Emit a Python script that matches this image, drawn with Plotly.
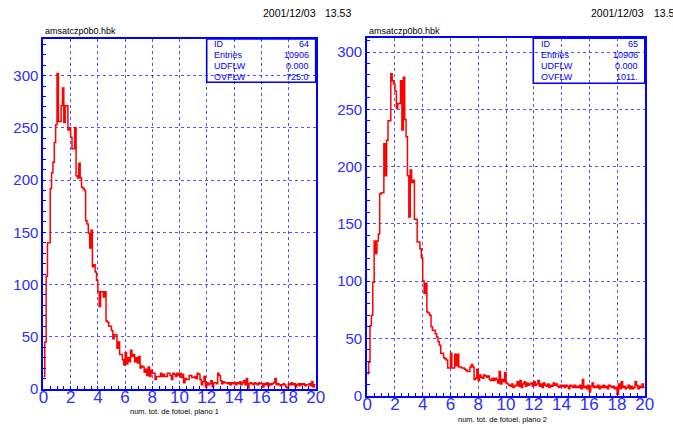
import numpy as np
import plotly.graph_objects as go

# ---- histogram contents: 200 bins of width 0.1 between 0 and 20 ----
x_min, x_max, n_bins = 0.0, 20.0, 200

plano1 = [
    12, 45, 108, 140, 140, 192, 207, 217, 236, 253,
    302, 256, 256, 271, 288, 255, 271, 271, 248, 250,
    241, 230, 230, 250, 204, 202, 216, 202, 193, 192,
    190, 161, 158, 149, 135, 152, 117, 119, 112, 104,
    93, 79, 93, 93, 88, 93, 65, 64, 60, 60,
    56, 48, 52, 52, 39, 45, 33, 33, 28, 23,
    35, 24, 30, 26, 37, 31, 33, 26, 30, 25,
    31, 20, 22, 21, 16, 19, 13, 21, 12, 18,
    15, 15, 9, 12, 12, 12, 15, 12, 14, 12,
    12, 15, 15, 13, 9, 15, 14, 12, 15, 13,
    15, 11, 14, 6, 10, 9, 9, 13, 13, 11,
    11, 12, 10, 15, 14, 9, 4, 7, 12, 2,
    6, 4, 5, 8, 2, 6, 6, 5, 15, 13,
    8, 5, 7, 6, 6, 5, 6, 4, 6, 5,
    6, 4, 6, 5, 7, 4, 6, 8, 4, 10,
    1, 5, 6, 5, 4, 6, 5, 4, 6, 5,
    5, 2, 5, 4, 6, 3, 5, 4, 5, 6,
    10, 4, 5, 4, 3, 4, 5, 4, 2, 1,
    5, 4, 6, 4, 5, 2, 4, 5, 3, 5,
    4, 5, 3, 4, 4, 5, 3, 7, 2, 4,
]

plano2 = [
    19, 29, 61, 70, 99, 135, 124, 135, 141, 176,
    177, 177, 220, 192, 223, 240, 240, 281, 275, 272,
    266, 251, 255, 255, 275, 232, 278, 241, 226, 192,
    156, 197, 186, 188, 154, 154, 134, 134, 128, 120,
    100, 89, 98, 73, 72, 70, 60, 57, 57, 54,
    51, 47, 44, 37, 37, 33, 32, 31, 24, 24,
    37, 24, 24, 36, 26, 36, 25, 25, 24, 24,
    23, 22, 21, 21, 25, 27, 25, 14, 15, 23,
    13, 18, 16, 15, 18, 17, 16, 17, 14, 13,
    15, 13, 15, 14, 11, 21, 10, 14, 12, 20,
    11, 10, 9, 8, 10, 7, 8, 9, 12, 8,
    13, 7, 10, 12, 8, 11, 9, 10, 11, 8,
    12, 9, 10, 13, 8, 10, 7, 11, 9, 8,
    10, 7, 9, 8, 11, 9, 10, 8, 7, 9,
    8, 9, 7, 9, 8, 6, 9, 8, 7, 9,
    7, 8, 7, 9, 6, 14, 7, 8, 6, 9,
    3, 8, 11, 7, 8, 7, 9, 6, 8, 7,
    9, 7, 8, 6, 9, 8, 7, 8, 6, 7,
    1, 10, 6, 12, 7, 8, 6, 7, 9, 6,
    8, 6, 7, 12, 9, 6, 8, 7, 10, 7,
]

# statistics boxes
stat_labels = ["ID", "Entries", "UDFLW", "OVFLW"]
stats1 = ["64", "10906", "0.000", "725.0"]
stats2 = ["65", "10906", "0.000", "1011."]

file_name = "amsatczp0b0.hbk"
x_titles = ["num. tot. de fotoel, plano 1", "num. tot. de fotoel, plano 2"]
stamp_date = "2001/12/03"
stamp_times = ["13.53", "13.54"]
y_tops = [335, 312]

W, H = 673, 424
BLUE = "#0000ff"
LABEL_BLUE = "#2e2eff"
RED = "#ff0000"
TICK_FONT = "Liberation Sans"


def px(x):
    return x / W


def py(y):
    return 1 - y / H


edges = np.linspace(x_min, x_max, n_bins + 1)


def step_xy(vals):
    v = np.asarray(vals, dtype=float)
    return np.append(edges[:-1], edges[-1]), np.append(v, v[-1])


fig = go.Figure()
for i, vals in enumerate([plano1, plano2]):
    xs, ys = step_xy(vals)
    suffix = "" if i == 0 else "2"
    fig.add_trace(go.Scatter(
        x=xs, y=ys, mode="lines", line=dict(color=RED, width=1.5, shape="hv"),
        xaxis="x" + suffix, yaxis="y" + suffix, showlegend=False, hoverinfo="skip",
    ))

# panel frames in pixels: (left, right, top, bottom)
frames = [(43.4, 315.7, 39.0, 389.0), (367.2, 644.8, 38.3, 395.5)]

axis_common = dict(
    showline=True, linecolor=BLUE, linewidth=2, mirror=True,
    showgrid=True, gridcolor="rgba(40,40,255,0.8)", griddash="dot", gridwidth=1,
    ticks="inside", ticklen=3, tickcolor=BLUE, tickwidth=1,
    zeroline=False, fixedrange=True, automargin=False,
)

layout_axes = {}
for i, (l, r, t, b) in enumerate(frames):
    suffix = "" if i == 0 else "2"
    layout_axes["xaxis" + suffix] = dict(
        axis_common, domain=[px(l), px(r)], range=[x_min, x_max],
        anchor="y" + suffix, tick0=0, dtick=2, ticklabelstandoff=-8,
        tickfont=dict(family=TICK_FONT, size=17, color=LABEL_BLUE),
        minor=dict(ticks="inside", dtick=0.5, ticklen=3, tickcolor=BLUE, showgrid=False),
    )
    layout_axes["yaxis" + suffix] = dict(
        axis_common, domain=[py(b), py(t)], range=[0, y_tops[i]],
        anchor="x" + suffix, tick0=0, dtick=50,
        tickfont=dict(family=TICK_FONT, size=15, color=LABEL_BLUE),
        minor=dict(ticks="inside", dtick=10, ticklen=3, tickcolor=BLUE, showgrid=False),
    )

annotations = []
shapes = []

# stats boxes
boxes = [((206.7, 315.7, 39.0, 82.3), stats1, 212.0, 310.5, [44.3, 55.0, 65.7, 76.7]),
         ((533.3, 644.8, 38.3, 83.3), stats2, 539.0, 639.5, [44.0, 55.0, 66.5, 77.3])]
for (x0, x1, y0, y1), vals, lx, rx, rows in boxes:
    shapes.append(dict(type="rect", xref="paper", yref="paper",
                       x0=px(x0), x1=px(x1), y0=py(y1), y1=py(y0),
                       line=dict(color=BLUE, width=1.6), fillcolor="rgba(0,0,0,0)", layer="above"))
    for lab, val, yy in zip(stat_labels, vals, rows):
        annotations.append(dict(text=lab, x=px(lx), y=py(yy), xref="paper", yref="paper",
                                xanchor="left", yanchor="middle", showarrow=False,
                                font=dict(family="Liberation Sans", size=9, color=BLUE)))
        annotations.append(dict(text=val, x=px(rx), y=py(yy), xref="paper", yref="paper",
                                xanchor="right", yanchor="middle", showarrow=False,
                                font=dict(family="Liberation Sans", size=9, color=BLUE)))

# file name above each frame, date stamp at the top
for i, (l, r, t, b) in enumerate(frames):
    annotations.append(dict(text=file_name, x=px(l), y=py(t - 0.5), xref="paper", yref="paper",
                            xanchor="left", yanchor="bottom", showarrow=False,
                            font=dict(family="Liberation Sans", size=9, color="black")))

stamp_x = [(261.0, 322.7), (589.0, 651.7)]
for (dx, tx), tm in zip(stamp_x, stamp_times):
    annotations.append(dict(text=stamp_date, x=px(dx), y=py(13), xref="paper", yref="paper",
                            xanchor="left", yanchor="middle", showarrow=False,
                            font=dict(family="Liberation Sans", size=10.5, color="black")))
    annotations.append(dict(text=tm, x=px(tx), y=py(13), xref="paper", yref="paper",
                            xanchor="left", yanchor="middle", showarrow=False,
                            font=dict(family="Liberation Sans", size=10.5, color="black")))

# x-axis titles
title_pos = [(174.5, 411.0), (502.0, 419.5)]
for (cx, cy), txt in zip(title_pos, x_titles):
    annotations.append(dict(text=txt, x=px(cx), y=py(cy), xref="paper", yref="paper",
                            xanchor="center", yanchor="middle", showarrow=False,
                            font=dict(family="Liberation Sans", size=7.5, color="black")))

fig.update_layout(
    template="none", autosize=False,
    width=W, height=H, margin=dict(l=0, r=0, t=0, b=0, pad=0),
    paper_bgcolor="white", plot_bgcolor="white",
    annotations=annotations, shapes=shapes, showlegend=False,
    **layout_axes,
)

fig.write_html("out.html", config=dict(displayModeBar=False))
